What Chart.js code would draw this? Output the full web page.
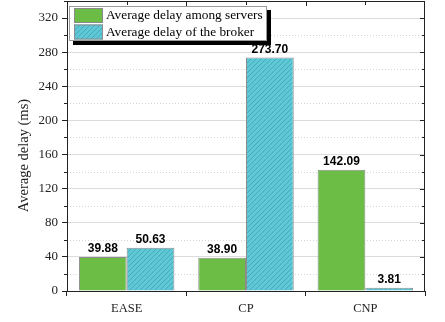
<!DOCTYPE html>
<html>
<head>
<meta charset="utf-8">
<script src="https://cdn.jsdelivr.net/npm/chart.js@4.4.1/dist/chart.umd.min.js"></script>
<style>
  html, body { margin: 0; padding: 0; background: #fff; }
  #wrap { width: 445px; height: 322px; }
</style>
</head>
<body>
<div id="wrap"><canvas id="c" width="445" height="322"></canvas></div>
<script>
// Categories and series values
const categories = ['EASE', 'CP', 'CNP'];
const serversDelay = [39.88, 38.90, 142.09];
const brokerDelay = [50.63, 273.70, 3.81];
const seriesNames = ['Average delay among servers', 'Average delay of the broker'];
const yTicks = [0, 40, 80, 120, 160, 200, 240, 280, 320];
const yTitle = 'Average delay (ms)';

const GREEN = '#6bbd45';
const CYAN = '#5ec8d7';
const SERIF = '"Liberation Serif", "Times New Roman", serif';
const SANS = '"Liberation Sans", Arial, sans-serif';

// Diagonal hatch fill for the broker series
function hatch() {
  const s = 5;
  const p = document.createElement('canvas');
  p.width = s; p.height = s;
  const g = p.getContext('2d');
  g.fillStyle = CYAN;
  g.fillRect(0, 0, s, s);
  g.strokeStyle = '#42a2b1';
  g.lineWidth = 0.8;
  g.beginPath();
  g.moveTo(-1, s + 1); g.lineTo(s + 1, -1);
  g.moveTo(-1, 1); g.lineTo(1, -1);
  g.moveTo(s - 1, s + 1); g.lineTo(s + 1, s - 1);
  g.stroke();
  return document.getElementById('c').getContext('2d').createPattern(p, 'repeat');
}
const hatchFill = hatch();

// Frame, minor grid, extra ticks, axis title, value labels and boxed legend
const decor = {
  id: 'decor',
  beforeDatasetsDraw(chart) {
    const { ctx, chartArea: a, scales: { y } } = chart;
    ctx.save();
    ctx.strokeStyle = '#d4d4d4';
    ctx.lineWidth = 1;
    ctx.setLineDash([1, 2]);
    for (let v = 20; v < 340; v += 40) {
      const py = Math.round(y.getPixelForValue(v)) + 0.5;
      ctx.beginPath(); ctx.moveTo(a.left, py); ctx.lineTo(a.right, py); ctx.stroke();
    }
    ctx.restore();
  },
  afterDraw(chart) {
    const { ctx, chartArea: a, scales: { x, y } } = chart;
    ctx.save();
    ctx.strokeStyle = '#222';
    ctx.lineWidth = 1;
    // plot frame
    ctx.strokeRect(Math.round(a.left) + 0.5, Math.round(a.top) + 0.5,
      Math.round(a.right - a.left) - 1, Math.round(a.bottom - a.top));
    // left minor ticks (outward), right ticks (inward)
    for (let v = 20; v <= 340; v += 20) {
      const py = Math.round(y.getPixelForValue(v)) + 0.5;
      const major = v % 40 === 0;
      ctx.beginPath();
      if (!major) { ctx.moveTo(a.left - 3, py); ctx.lineTo(a.left, py); }
      ctx.moveTo(a.right - (major ? 5 : 3), py); ctx.lineTo(a.right, py);
      ctx.stroke();
    }
    // top ticks (inward)
    const step = x.getPixelForValue(1) - x.getPixelForValue(0);
    for (let i = 0; i < categories.length; i++) {
      const cx = Math.round(x.getPixelForValue(i)) + 0.5;
      const bx = Math.round(x.getPixelForValue(i) + step / 2) + 0.5;
      ctx.beginPath();
      ctx.moveTo(cx, a.top); ctx.lineTo(cx, a.top + 4);
      if (i < categories.length - 1) { ctx.moveTo(bx, a.top); ctx.lineTo(bx, a.top + 5); }
      ctx.stroke();
    }
    // y axis title, centred on the 160 level
    ctx.save();
    ctx.translate(24, y.getPixelForValue(160) + 1);
    ctx.rotate(-Math.PI / 2);
    ctx.fillStyle = '#222';
    ctx.font = '14.5px ' + SERIF;
    ctx.textAlign = 'center';
    ctx.textBaseline = 'middle';
    ctx.fillText(yTitle, 0, 0);
    ctx.restore();
    // value labels
    ctx.fillStyle = '#000';
    ctx.font = 'bold 12px ' + SANS;
    ctx.textAlign = 'center';
    ctx.textBaseline = 'bottom';
    chart.data.datasets.forEach((ds, di) => {
      chart.getDatasetMeta(di).data.forEach((bar, i) => {
        ctx.fillText(ds.data[i].toFixed(2), bar.x, bar.y - 2);
      });
    });
    // legend box with drop shadow
    const lx = a.left + 2, ly = a.top + 5, lw = 198, lh = 35;
    ctx.fillStyle = '#000';
    ctx.fillRect(lx + 4, ly + lh, lw, 4);
    ctx.fillRect(lx + lw, ly + 4, 4, lh);
    ctx.fillStyle = '#fff';
    ctx.fillRect(lx, ly, lw, lh);
    ctx.strokeStyle = '#9a9a9a';
    ctx.strokeRect(lx + 0.5, ly + 0.5, lw - 1, lh - 1);
    const fills = [GREEN, hatchFill];
    ctx.font = '13.3px ' + SERIF;
    ctx.textAlign = 'left';
    ctx.textBaseline = 'middle';
    seriesNames.forEach((name, i) => {
      const sy = ly + 2 + i * 16.5;
      ctx.fillStyle = fills[i];
      ctx.fillRect(lx + 5, sy, 29, 15);
      ctx.strokeStyle = '#8a8a8a';
      ctx.strokeRect(lx + 5.5, sy + 0.5, 28, 14);
      ctx.fillStyle = '#000';
      ctx.fillText(name, lx + 37, sy + 8);
    });
    ctx.restore();
  }
};

new Chart(document.getElementById('c'), {
  type: 'bar',
  data: {
    labels: categories,
    datasets: [
      { label: seriesNames[0], data: serversDelay, backgroundColor: GREEN,
        borderColor: '#8c8c8c', borderWidth: 1, categoryPercentage: 0.8, barPercentage: 1.0 },
      { label: seriesNames[1], data: brokerDelay, backgroundColor: hatchFill,
        borderColor: '#8c8c8c', borderWidth: 1, categoryPercentage: 0.8, barPercentage: 1.0 }
    ]
  },
  options: {
    responsive: false,
    animation: false,
    events: [],
    layout: { padding: { top: 1, right: 20, left: 0, bottom: 0 } },
    plugins: { legend: { display: false }, tooltip: { enabled: false } },
    scales: {
      x: {
        grid: { offset: true, drawOnChartArea: false, tickLength: 5, tickColor: '#222' },
        border: { display: false },
        ticks: { color: '#222', font: { family: SERIF, size: 12.5 }, padding: 5 },
        afterFit(s) { s.height = 31; s.paddingLeft = 0; s.paddingRight = 0; }
      },
      y: {
        min: 0, max: 340,
        afterBuildTicks(s) { s.ticks = yTicks.map(v => ({ value: v })); },
        grid: { color: '#dcdcdc', tickLength: 5, tickColor: '#222' },
        border: { display: false },
        ticks: { color: '#222', font: { family: SERIF, size: 13 }, padding: 4 },
        afterFit(s) { s.width = 67; s.paddingTop = 0; s.paddingBottom = 0; }
      }
    }
  },
  plugins: [decor]
});
</script>
</body>
</html>
